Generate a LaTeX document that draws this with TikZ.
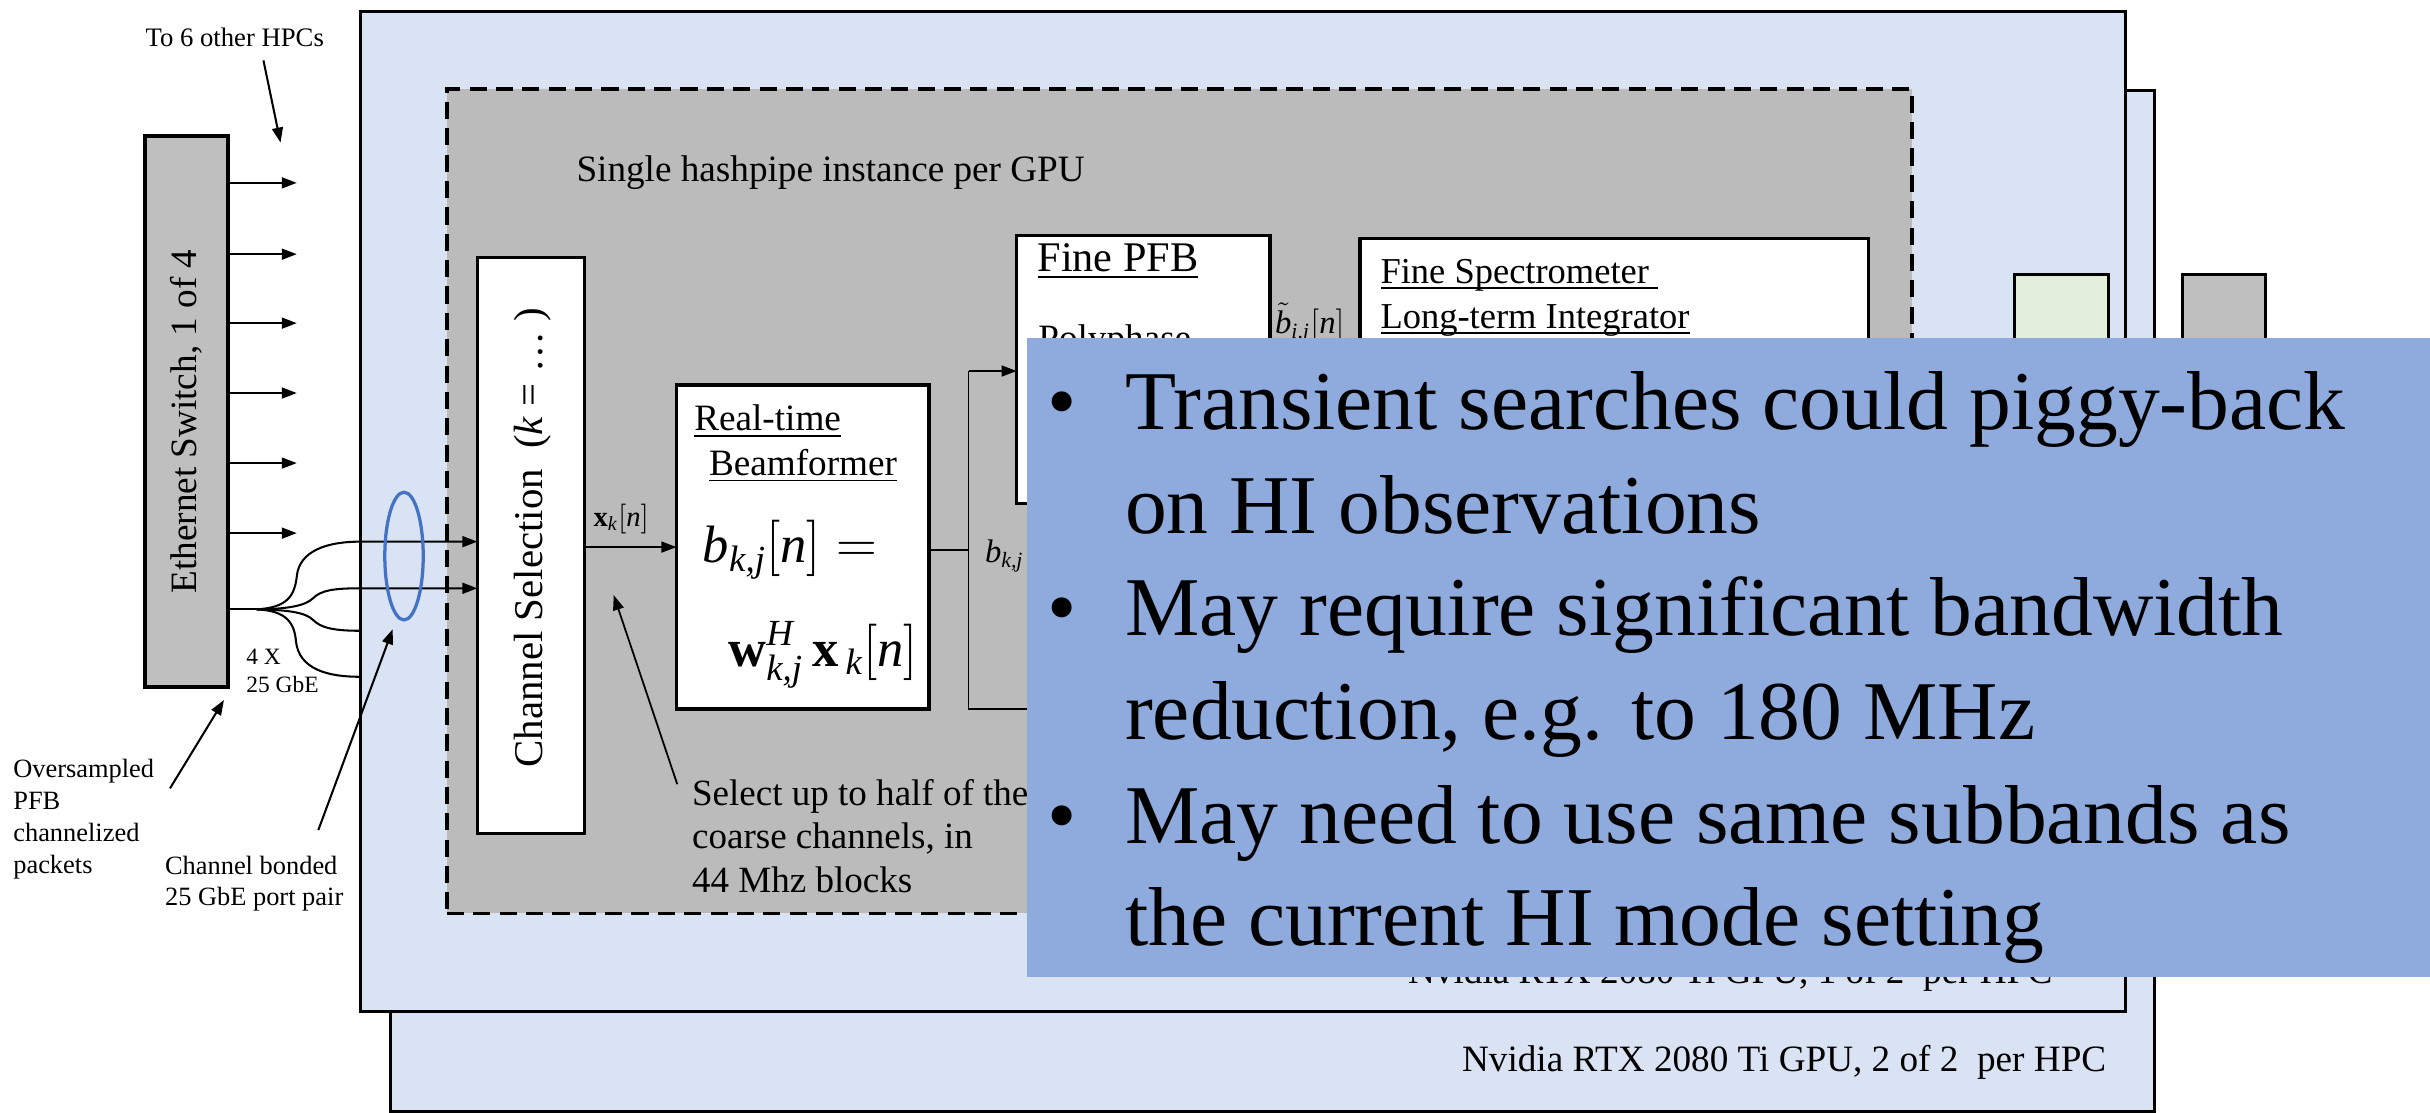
\documentclass[tikz,border=0pt]{standalone}
\usepackage{amsmath}
\usepackage{fontspec}
\setmainfont{Liberation Serif}
\usetikzlibrary{arrows.meta,fit,shapes.geometric}
\definecolor{gpublue}{HTML}{DAE3F3}
\definecolor{pipegrey}{HTML}{BBBBBB}
\definecolor{swgrey}{HTML}{BFBFBF}
\definecolor{overlayblue}{HTML}{8FAADC}
\definecolor{ellblue}{HTML}{4472C4}
\definecolor{lgreen}{HTML}{E2EFDA}
\newcommand\fsA{\fontsize{13.66}{16.4}\selectfont}
\newcommand\fsB{\fontsize{30.7}{37.9}\selectfont}
\newcommand\fsEq{\fontsize{19.3}{23}\selectfont}
\newcommand\uln[2][0.16em]{\setbox0=\hbox{#2}\rlap{\rule[-#1]{\wd0}{0.05em}}\box0}
\begin{document}
\begin{tikzpicture}[x=0.02cm,y=-0.02cm,
  every node/.style={inner sep=0pt, outer sep=0pt},
  box/.style={draw, line width=1.2pt, fill=white, inner sep=0pt},
  txt/.style={anchor=base west, inner sep=0pt},
  conn/.style={line width=0.65pt},
  arr/.style={line width=0.65pt, -{Triangle[length=5.5pt,width=4pt]}},
]
\useasboundingbox (0,0) rectangle (1568,718);
% GPU boards
\node (gpub) [box, fill=gpublue, line width=1.1pt, fit={(252,58.5) (1390,717)}] {};
\node (gpubtxt) [txt, font=\fsA] at (943.4,691.7) {Nvidia RTX 2080 Ti GPU, 2 of 2\ \ per HPC};
\node (gpua) [box, fill=gpublue, line width=1.1pt, fit={(232.3,7.1) (1371.5,652.6)}] {};
\node (gpuatxt) [txt, font=\fsA] at (908.6,634.3) {Nvidia RTX 2080 Ti GPU, 1 of 2\ \ per HPC};
% hashpipe instance
\node (pipe) [draw, fill=pipegrey, line width=1.4pt, dash pattern=on 0.22cm off 0.12cm, fit={(288.5,57.5) (1233.6,589.4)}] {};
\node (pipetxt) [txt, font=\fsA] at (372,117) {Single hashpipe instance per GPU};
% small boxes at right
\node (gbox) [box, fill=lgreen, line width=1.1pt, fit={(1299.6,176.8) (1360.6,420)}] {};
\node (sbox) [box, fill=swgrey, line width=1.1pt, fit={(1408.4,176.8) (1461.6,420)}] {};
% Ethernet switch
\node (sw) [box, fill=swgrey, line width=1.5pt, fit={(93.6,87.6) (147.3,443)}] {};
\node (swtxt) [rotate=90, font=\fsA] at (120.5,272) {Ethernet Switch, 1 of 4};
\foreach \yy [count=\i] in {118,164,208.5,253.6,298.8,344}{
  \coordinate (out\i) at (191.5,\yy);
  \draw[arr, line width=0.75pt] (sw.east |- out\i) -- (out\i);
}
\node (to6) [txt, font=\fontsize{9.8}{12}\selectfont] at (94,29.7) {To 6 other HPCs};
\coordinate (to6a) at (170,39);
\coordinate (to6b) at (181,92);
\draw[arr, line width=0.75pt] (to6a) -- (to6b);
% Channel selection
\node (chsel) [box, fit={(308,166) (377,538)}] {};
\node (chseltxt) [rotate=90, font=\fontsize{15}{18}\selectfont] at (343.5,347) {Channel Selection\ \ (\textit{k} = \dots\ )};
% fan of 25 GbE links
\coordinate (fan) at (165.6,393.2);
\draw[conn, line width=0.75pt] (sw.east |- fan) -- (fan);
\draw[arr, line width=0.75pt] (fan) .. controls (185,392) and (190,385) .. (191.5,372)
   .. controls (193,355) and (212,349.5) .. (232,349.5) -- (chsel.west |- 0,349.5);
\draw[arr, line width=0.75pt] (fan) .. controls (185,393) and (197,391) .. (202,386)
   .. controls (207,381) and (215,379.6) .. (232,379.6) -- (chsel.west |- 0,379.6);
\draw[conn, line width=0.75pt] (fan) .. controls (185,393.5) and (197,395) .. (202,400)
   .. controls (207,405) and (215,407) .. (232,407);
\draw[conn, line width=0.75pt] (fan) .. controls (185,394) and (190,402) .. (191,414)
   .. controls (193,432) and (212,436.7) .. (232,436.7);
\node (bond) [ellipse, draw=ellblue, line width=1.2pt, minimum width=0.496cm, minimum height=1.648cm] at (260.7,358.8) {};
\node (fourx) [txt, font=\fontsize{8.6}{10.5}\selectfont] at (159,428.5) {\begin{tabular}[t]{@{}l@{}}4 X\\ 25 GbE\end{tabular}};
\node (overs) [txt, font=\fontsize{9.7}{11.8}\selectfont] at (8.6,501.5) {\begin{tabular}[t]{@{}l@{}}Oversampled\\ PFB\\ channelized\\ packets\end{tabular}};
\coordinate (oversa) at (109.7,508.7);
\coordinate (oversb) at (144.5,451.7);
\draw[arr, line width=0.75pt] (oversa) -- (oversb);
\node (cbond) [txt, font=\fontsize{9.7}{11.7}\selectfont] at (106.5,564) {\begin{tabular}[t]{@{}l@{}}Channel bonded\\ 25 GbE port pair\end{tabular}};
\coordinate (cbonda) at (205.4,535.6);
\coordinate (cbondb) at (253.4,406);
\draw[arr, line width=0.75pt] (cbonda) -- (cbondb);
% Beamformer
\node (bf) [box, fit={(436.5,248.4) (599.5,457.5)}] {};
\node (bft1) [txt, font=\fsA] at (448,277.5) {\uln[0.19em]{Real-time}};
\node (bft2) [txt, font=\fsA] at (457.5,306.8) {\uln{Beamformer}};
\node (eq1) [txt, font=\fsEq] at (453.6,363) {$\textit{b}_{\textit{k,j}}[\textit{n}]=$};
\node (eq2) [txt, font=\fsEq] at (470,430) {$\textbf{w}^{\textit{H}}_{\textit{k,j}}\,\textbf{x}_{\,\textit{k}}[\textit{n}]$};
\draw[arr] (chsel.east |- 0,353) -- (bf.west |- 0,353);
\node (xlab) [txt, font=\fontsize{10.5}{12}\selectfont] at (383,339.5) {$\textbf{x}_{\textit{k}}[\textit{n}]$};
\node (seltxt) [txt, font=\fontsize{13.6}{16}\selectfont] at (446.6,519.6) {\begin{tabular}[t]{@{}l@{}}Select up to half of the\\ coarse channels, in\\ 44 Mhz blocks\end{tabular}};
\coordinate (sela) at (437,506);
\coordinate (selb) at (396,384);
\draw[arr] (sela) -- (selb);
% Fine PFB
\node (pfb) [box, fit={(656,152) (819.5,324.8)}] {};
\node (pfbt) [txt, font=\fontsize{15.5}{18}\selectfont] at (669.5,175.5) {\uln[0.15em]{Fine PFB}};
\node (pfbp) [txt, font=\fsA] at (670,226) {Polyphase};
\coordinate (split) at (625,355);
\coordinate (splittop) at (625,239.4);
\coordinate (splitbot) at (625,457.5);
\coordinate (splitout) at (700,457.5);
\draw[conn] (bf.east |- split) -- (split);
\draw[conn] (splittop) -- (splitbot) -- (splitout);
\draw[arr] (splittop) -- (pfb.west |- splittop);
\node (blab) [txt, font=\fontsize{12}{14}\selectfont] at (635.6,363) {$\textit{b}_{\textit{k,j}}[\textit{n}]$};
\node (btlab) [txt, font=\fontsize{12}{14}\selectfont] at (822.8,215) {$\tilde{\textit{b}}_{\textit{i,j}}[\textit{n}]$};
% Fine spectrometer
\node (spec) [box, fit={(877.6,153.8) (1205.5,480)}] {};
\node (spect1) [txt, font=\fontsize{13.4}{16}\selectfont] at (890.8,182.8) {\uln{Fine Spectrometer\ }};
\node (spect2) [txt, font=\fontsize{13.4}{16}\selectfont] at (890.8,211.8) {\uln{Long-term Integrator}};
% Overlay with bullets
\node (note) [fill=overlayblue, fit={(662.6,218) (1568,630.5)}] {};
\node (b1) [txt, font=\fsB] at (676,277) {\textbullet};
\node (l1) [txt, font=\fsB] at (726,277) {Transient searches could piggy-back};
\node (l2) [txt, font=\fsB] at (726,344) {on HI observations};
\node (b2) [txt, font=\fsB] at (676,410) {\textbullet};
\node (l3) [txt, font=\fsB] at (726,410) {May require significant bandwidth};
\node (l4) [txt, font=\fsB] at (726,477) {reduction, e.g. to 180 MHz};
\node (b3) [txt, font=\fsB] at (676,544) {\textbullet};
\node (l5) [txt, font=\fsB] at (726,544) {May need to use same subbands as};
\node (l6) [txt, font=\fsB] at (726,610) {the current HI mode setting};
\end{tikzpicture}
\end{document}
